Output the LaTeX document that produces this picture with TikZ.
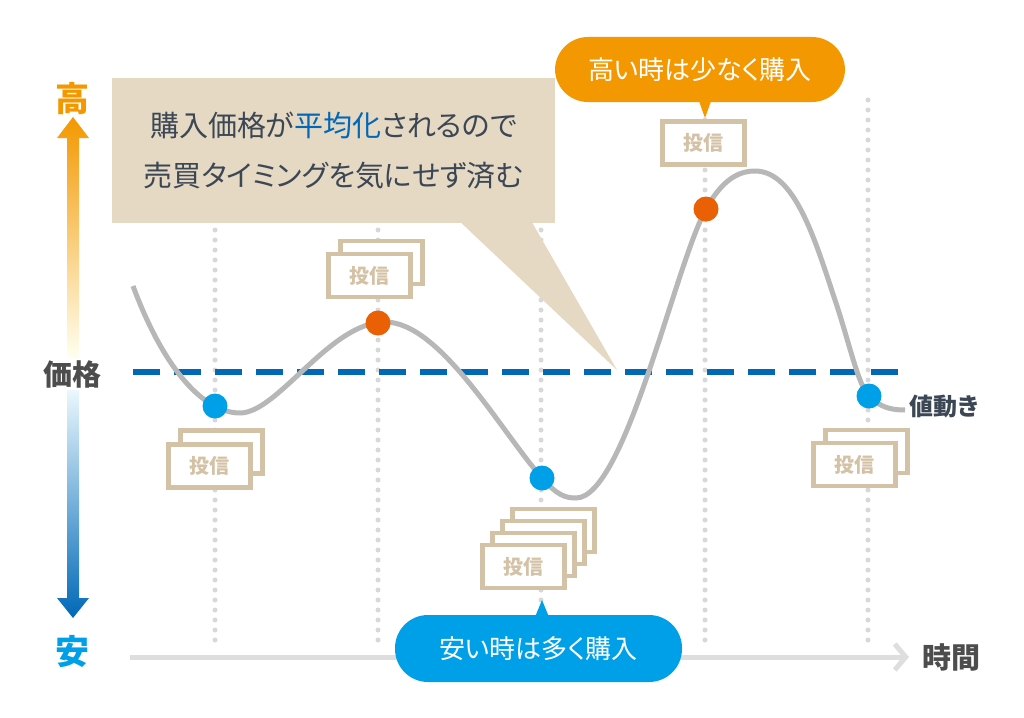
\documentclass[tikz,border=0pt]{standalone}
\usepackage{fontspec}
\setmainfont{Noto Sans CJK JP}[RawFeature=+palt]
\usetikzlibrary{arrows.meta, positioning, calc}
\definecolor{highorange}{HTML}{F39800}
\definecolor{dotorange}{HTML}{EA6005}
\definecolor{lowcyan}{HTML}{00A0E9}
\definecolor{avgblue}{HTML}{0068B7}
\definecolor{cardtan}{HTML}{D4C2A6}
\definecolor{bubbletan}{HTML}{E6D9C3}
\definecolor{curvegrey}{HTML}{B7B7B7}
\definecolor{axisgrey}{HTML}{DEDEDE}
\definecolor{guidegrey}{HTML}{D8D8D8}
\definecolor{inkslate}{HTML}{3B4754}
\definecolor{inkgrey}{HTML}{4D4D4D}
\tikzstyle{card} = [draw=cardtan, line width=4.5pt, fill=white, inner sep=0pt,
    minimum width=82pt, minimum height=43pt, text=cardtan,
    font=\bfseries\fontsize{20}{20}\selectfont]
\tikzstyle{dot} = [circle, inner sep=0pt, minimum size=25pt]
\tikzstyle{pill} = [rounded corners=33pt, inner sep=0pt, text=white,
    font=\fontsize{26}{26}\selectfont]
\tikzstyle{guide} = [draw=guidegrey, line width=5pt, line cap=round,
    dash pattern=on 0pt off 10pt]
\tikzstyle{axislabel} = [font=\bfseries\fontsize{29}{29}\selectfont]

\begin{document}
\begin{tikzpicture}[x=1pt, y=-1pt]
    \useasboundingbox (0,0) rectangle (1024,717);

    % Guides and axes
    \foreach \gx in {215,378,541,705,868}
        \draw [guide] (\gx,100) -- (\gx,650);
    \coordinate (tstart) at (130,657);
    \coordinate (tend) at (909,657);
    \draw [axisgrey, line width=5pt, -{Straight Barb[length=11pt, width=26pt]}] (tstart) -- (tend);
    \node [axislabel, text=inkgrey, right=10pt of tend] (time) {時間};

    % Price arrow
    \shade [top color=highorange, bottom color=white!94!yellow]
        (67,358) -- (67,138) -- (57,138) -- (73,117) -- (89,138) -- (79,138) -- (79,358) -- cycle;
    \shade [top color=lowcyan!8, middle color=lowcyan!75, bottom color=avgblue]
        (67,390) -- (67,598) -- (57,598) -- (73,618) -- (89,598) -- (79,598) -- (79,390) -- cycle;
    \node [axislabel, text=highorange, font=\bfseries\fontsize{34}{34}\selectfont] (high) at (72,99) {高};
    \node [axislabel, text=inkgrey, font=\bfseries\fontsize{29}{29}\selectfont] (price) at (72,374) {価格};
    \node [axislabel, text=lowcyan, font=\bfseries\fontsize{34}{34}\selectfont] (low) at (72,652) {安};

    % Average line and price curve
    \draw [avgblue, line width=6pt, dash pattern=on 27pt off 14pt] (133,372) -- (898,372);
    \draw [curvegrey, line width=5pt]
        (133,286) .. controls (165,372) and (205,413) .. (240,413)
        .. controls (278,413) and (330,322) .. (385,322)
        .. controls (440,322) and (500,430) .. (542,478)
        .. controls (557,495) and (565,498) .. (576,498)
        .. controls (625,498) and (675,265) .. (706,209)
        .. controls (720,184) and (735,171) .. (755,171)
        .. controls (795,171) and (815,240) .. (835,300)
        .. controls (850,345) and (858,385) .. (869,396)
        .. controls (880,407) and (890,410) .. (905,410);
    \node [axislabel, text=inkslate, font=\bfseries\fontsize{24}{24}\selectfont] (move) at (944,406) {値動き};

    % Buying points
    \node [dot, fill=lowcyan] (low1) at (215,406) {};
    \node [dot, fill=dotorange] (high1) at (378,323) {};
    \node [dot, fill=lowcyan] (low2) at (542,478) {};
    \node [dot, fill=dotorange] (high2) at (706,209) {};
    \node [dot, fill=lowcyan] (low3) at (869,396) {};

    % Fund cards
    \coordinate (s1) at (209.5,466);
    \coordinate (s2) at (369.5,275.5);
    \coordinate (s3) at (523.5,566.5);
    \coordinate (s4) at (703.5,143);
    \coordinate (s5) at (854.5,464.5);
    \node [card] at ($(s1)+(12,-14)$) {};
    \node [card] (fund1) at (s1) {投信};
    \node [card] at ($(s2)+(12,-13)$) {};
    \node [card] (fund2) at (s2) {投信};
    \foreach \k in {3,2,1}
        \node [card] at ($(s3)+(10*\k,-12*\k)$) {};
    \node [card] (fund3) at (s3) {投信};
    \node [card] (fund4) at (s4) {投信};
    \node [card] at ($(s5)+(12,-13)$) {};
    \node [card] (fund5) at (s5) {投信};

    % Speech bubble
    \coordinate (avgtip) at (617,370);
    \node [fill=bubbletan, minimum width=443pt, minimum height=145pt, inner sep=0pt,
        text=inkslate, align=center, font=\fontsize{29}{50}\selectfont]
        (msg) at (333.5,150.5) {購入価格が\textcolor{avgblue}{平均化}されるので\\売買タイミングを気にせず済む};
    \fill [bubbletan] ($(msg.south)+(128,0)$) -- (avgtip) -- ($(msg.south)+(199,0)$) -- cycle;

    % Buy labels
    \coordinate (hightip) at (705,118);
    \node [pill, fill=highorange, minimum width=290pt, minimum height=65pt] (highpill) at (700,69.5) {高い時は少なく購入};
    \fill [highorange] ($(highpill.south)+(-1,-1)$) -- (hightip) -- ($(highpill.south)+(11,-1)$) -- cycle;
    \coordinate (lowtip) at (542,600);
    \node [pill, fill=lowcyan, minimum width=287pt, minimum height=67pt] (lowpill) at (538.5,648.5) {安い時は多く購入};
    \fill [lowcyan] ($(lowpill.north)+(-3,1)$) -- (lowtip) -- ($(lowpill.north)+(10,1)$) -- cycle;
\end{tikzpicture}
\end{document}
